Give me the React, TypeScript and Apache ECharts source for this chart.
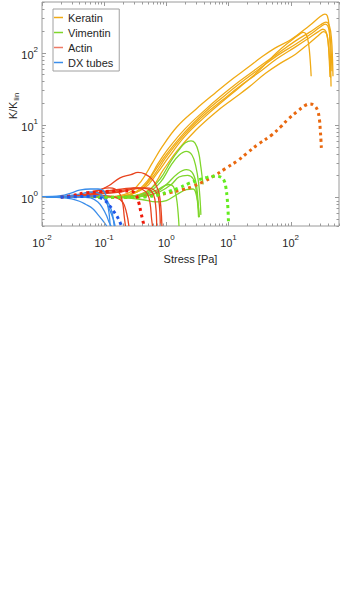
import React, { useEffect, useRef } from 'react';
import * as echarts from 'echarts';

const X_MIN = 0.01;
const X_MAX = 600;
const Y_MIN = 0.4;
const Y_MAX = 500;

const legendNames = ['Keratin', 'Vimentin', 'Actin', 'DX tubes'];

// Keratin (solid)
const keratin1 = [[0.1,1.0],[0.25,1.15],[0.4,1.7],[0.6,3.0],[0.86,5.0],[1.5,9.5],[3,16.5],[6.25,28],[12,44],[21,63],[35,88],[56,115],[100,150],[200,235],[300,315],[355,340],[390,320],[415,230],[432,110],[447,34]];
const keratin2 = [[0.12,1.0],[0.3,1.15],[0.5,1.7],[0.75,3.0],[1.1,4.8],[2,8.8],[4,15.5],[8,26],[15,40],[30,62],[60,95],[120,145],[200,190],[300,240],[370,264],[420,235],[455,150],[472,80],[480,47]];
const keratin3 = [[0.15,1.0],[0.35,1.2],[0.6,1.9],[1,3.6],[2,7.5],[4,13.5],[8,22],[15,34],[30,52],[60,82],[120,120],[200,160],[280,195],[330,210],[370,195],[400,140],[418,80],[430,46]];
const keratin4 = [[0.2,1.0],[0.45,1.35],[0.7,2.1],[1.1,3.6],[2,7],[4,12.5],[8,21],[15,33],[30,55],[60,100],[100,145],[140,180],[160,190],[180,175],[195,130],[206,80],[214,47]];
const keratin5 = [[0.25,1.0],[0.55,1.3],[0.9,2.4],[1.5,4.4],[3,8.5],[6.25,15],[12,23],[21,33],[40,52],[70,72],[120,95],[200,135],[280,172],[340,195],[380,180],[405,130],[425,75],[440,45]];
const keratin6 = [[0.18,1.0],[0.4,1.3],[0.65,2.3],[1,3.9],[2,8],[4,14.5],[8,24],[15,37],[30,58],[60,90],[120,130],[200,175],[300,225],[360,248],[400,230],[430,170],[450,100],[462,55]];

// Vimentin (solid)
const vimentin1 = [[0.05,1.0],[0.1,1.0],[0.3,1.05],[0.5,1.2],[0.8,1.8],[1.2,3.2],[1.6,4.5],[2.0,5.6],[2.5,6.0],[2.9,5.6],[3.3,4.2],[3.6,2.6],[3.8,1.8],[3.9,1.5]];
const vimentin2 = [[0.05,1.0],[0.1,1.0],[0.3,1.05],[0.5,1.15],[0.8,1.6],[1.2,2.8],[1.6,3.8],[2.1,4.3],[2.6,3.8],[3.0,2.6],[3.3,1.6],[3.5,0.9],[3.6,0.57]];
const vimentin3 = [[0.05,1.0],[0.1,1.0],[0.3,1.02],[0.6,1.1],[1.0,1.5],[1.5,2.1],[2.1,2.4],[2.6,2.2],[3.0,1.6],[3.2,1.0],[3.35,0.53]];
const vimentin4 = [[0.05,1.0],[0.2,1.0],[0.5,1.05],[0.8,1.2],[1.2,1.5],[1.6,1.9],[2.2,2.0],[2.7,1.8],[3.0,1.3],[3.2,0.8],[3.3,0.53]];
const vimentin5 = [[0.05,1.0],[0.2,1.0],[0.4,1.05],[0.7,1.25],[1.1,1.5],[1.3,1.4],[1.45,1.0],[1.55,0.6],[1.6,0.4]];
const vimentin6 = [[0.05,1.0],[0.2,0.98],[0.4,0.93],[0.69,0.86],[1.0,0.9],[1.5,1.1],[2.1,1.27],[2.7,1.3],[3.1,1.0],[3.3,0.7],[3.4,0.53]];

// Actin (solid)
const actin1 = [[0.02,1.0],[0.05,1.05],[0.085,1.25],[0.12,1.45],[0.18,1.85],[0.27,2.05],[0.35,2.2],[0.45,2.1],[0.6,1.75],[0.7,1.4],[0.77,1.1],[0.82,0.7],[0.85,0.4]];
const actin2 = [[0.02,1.0],[0.05,1.1],[0.08,1.25],[0.12,1.35],[0.15,1.3],[0.18,1.1],[0.2,0.8],[0.21,0.55],[0.22,0.4]];
const actin3 = [[0.02,1.0],[0.06,1.1],[0.1,1.2],[0.2,1.3],[0.3,1.35],[0.4,1.3],[0.5,1.1],[0.55,0.8],[0.58,0.5],[0.6,0.4]];
const actin4 = [[0.02,1.0],[0.05,1.05],[0.1,1.15],[0.2,1.25],[0.35,1.35],[0.5,1.3],[0.62,1.1],[0.68,0.7],[0.7,0.4]];
const actin5 = [[0.02,1.0],[0.05,1.02],[0.1,1.05],[0.15,1.0],[0.2,0.85],[0.23,0.6],[0.25,0.4]];
const actin6 = [[0.02,1.0],[0.05,1.05],[0.1,1.12],[0.2,1.2],[0.3,1.3],[0.45,1.35],[0.6,1.3],[0.72,1.1],[0.78,0.7],[0.8,0.4]];

// DX tubes (solid)
const dx1 = [[0.01,1.02],[0.02,1.05],[0.03,1.15],[0.04,1.25],[0.06,1.3],[0.08,1.3],[0.1,1.2],[0.11,0.9],[0.12,0.6],[0.125,0.4]];
const dx2 = [[0.01,1.0],[0.02,1.02],[0.04,1.1],[0.06,1.18],[0.08,1.15],[0.1,1.0],[0.12,0.8],[0.135,0.6],[0.145,0.4]];
const dx3 = [[0.01,1.0],[0.02,1.0],[0.04,1.0],[0.06,0.98],[0.08,0.85],[0.095,0.7],[0.11,0.55],[0.12,0.45],[0.13,0.4]];
const dx4 = [[0.01,1.0],[0.02,0.99],[0.03,0.95],[0.04,0.88],[0.05,0.8],[0.065,0.7],[0.08,0.57],[0.1,0.45],[0.11,0.4]];
const dx5 = [[0.01,1.0],[0.03,1.0],[0.05,1.02],[0.08,1.05],[0.1,0.95],[0.12,0.7],[0.14,0.5],[0.15,0.4]];

// Model curves (dotted)
const keratinModel = [[0.08,1.0],[0.2,1.0],[0.4,1.03],[0.7,1.08],[1.1,1.15],[1.8,1.27],[2.6,1.4],[4,1.65],[6,2.0],[9,2.5],[14,3.2],[20,4.1],[30,5.4],[49,7.2],[70,9.5],[91,12],[130,15.5],[170,18.5],[204,19.5],[240,18.5],[270,16],[290,12],[300,8.5],[308,6],[312,4.8]];
const vimentinModel = [[0.08,1.0],[0.3,1.0],[0.5,1.02],[0.77,1.08],[1.1,1.2],[1.6,1.35],[2.3,1.55],[3.3,1.74],[4.5,1.88],[6,1.95],[7.5,1.9],[8.5,1.7],[9.1,1.35],[9.5,1.0],[9.8,0.7],[10,0.45]];
const actinModel = [[0.02,1.0],[0.03,1.05],[0.05,1.15],[0.1,1.2],[0.2,1.22],[0.28,1.2],[0.33,1.05],[0.36,0.85],[0.39,0.62],[0.42,0.47],[0.44,0.4]];
const dxModel = [[0.02,1.0],[0.04,1.02],[0.06,1.03],[0.08,1.0],[0.1,0.92],[0.12,0.78],[0.14,0.65],[0.16,0.55],[0.18,0.45],[0.19,0.4]];

const C_KERATIN = '#F0AA14';
const C_VIMENTIN = '#7FD62B';
const C_ACTIN = '#E8431E';
const C_DX = '#3A8DEA';
const FONT = '"Liberation Sans", Arial, sans-serif';
const FRAME = '#9a9a9a';

function buildTicks() {
  const items: number[][] = [];
  for (let e = -2; e <= 2; e++) {
    for (let m = 1; m <= 9; m++) {
      const v = m * Math.pow(10, e);
      if (v > X_MAX) break;
      items.push([v, Y_MIN, 0, m === 1 ? 1 : 0]);
    }
  }
  for (let e = -1; e <= 2; e++) {
    for (let m = 1; m <= 9; m++) {
      const v = m * Math.pow(10, e);
      if (v < Y_MIN || v > Y_MAX) continue;
      items.push([X_MIN, v, 1, m === 1 ? 1 : 0]);
    }
  }
  return items;
}

function supFormatter(v: number) {
  const l = Math.log10(v);
  const e = Math.round(l);
  if (Math.abs(l - e) > 1e-6) return '';
  return `{b|10}{s|${e}}`;
}

const labelRich = {
  b: { fontSize: 11, lineHeight: 15, verticalAlign: 'bottom', color: '#262626', fontFamily: FONT },
  s: { fontSize: 8, lineHeight: 15, verticalAlign: 'top', color: '#262626', fontFamily: FONT },
};

export default function App() {
  const ref = useRef<HTMLDivElement>(null);
  useEffect(() => {
    if (!ref.current) return;
    const chart = echarts.init(ref.current, null, { renderer: 'svg' });

    const solid = (name: string, data: number[][], color: string) => ({
      type: 'line',
      name,
      data,
      showSymbol: false,
      symbol: 'none',
      smooth: 0.4,
      lineStyle: { color, width: 1.3 },
      itemStyle: { color },
      z: 2,
    });
    const dotted = (name: string, data: number[][], color: string) => ({
      type: 'line',
      name,
      data,
      showSymbol: false,
      symbol: 'none',
      smooth: 0.4,
      lineStyle: { color, width: 3, type: [3, 3.5], cap: 'butt' },
      itemStyle: { color },
      z: 3,
    });

    const series: any[] = [
      ...[keratin1, keratin2, keratin3, keratin4, keratin5, keratin6].map(d => solid(legendNames[0], d, C_KERATIN)),
      ...[vimentin1, vimentin2, vimentin3, vimentin4, vimentin5, vimentin6].map(d => solid(legendNames[1], d, C_VIMENTIN)),
      ...[actin1, actin2, actin3, actin4, actin5, actin6].map(d => solid(legendNames[2], d, C_ACTIN)),
      ...[dx1, dx2, dx3, dx4, dx5].map(d => solid(legendNames[3], d, C_DX)),
      dotted('Keratin model', keratinModel, '#E9680F'),
      dotted('Vimentin model', vimentinModel, '#62EC1E'),
      dotted('Actin model', actinModel, '#F01A0A'),
      dotted('DX model', dxModel, '#1F56E8'),
      {
        type: 'custom',
        name: 'ticks',
        silent: true,
        clip: false,
        z: 5,
        encode: { x: 0, y: 1 },
        data: buildTicks(),
        renderItem: (params: any, api: any) => {
          const xv = api.value(0);
          const yv = api.value(1);
          const dir = api.value(2);
          const major = api.value(3);
          const len = major ? 4 : 2.5;
          const style = { stroke: FRAME, lineWidth: 1 };
          if (dir === 0) {
            const p1 = api.coord([xv, Y_MIN]);
            const p2 = api.coord([xv, Y_MAX]);
            const x = Math.round(p1[0]) + 0.5;
            return {
              type: 'group',
              children: [
                { type: 'line', shape: { x1: x, y1: p1[1], x2: x, y2: p1[1] - len }, style },
                { type: 'line', shape: { x1: x, y1: p2[1], x2: x, y2: p2[1] + len }, style },
              ],
            };
          }
          const p1 = api.coord([X_MIN, yv]);
          const p2 = api.coord([X_MAX, yv]);
          const y = Math.round(p1[1]) + 0.5;
          return {
            type: 'group',
            children: [
              { type: 'line', shape: { x1: p1[0], y1: y, x2: p1[0] + len, y2: y }, style },
              { type: 'line', shape: { x1: p2[0], y1: y, x2: p2[0] - len, y2: y }, style },
            ],
          };
        },
      },
    ];

    chart.setOption({
      animation: false,
      textStyle: { fontFamily: FONT },
      grid: {
        left: 42,
        right: 1,
        top: 2,
        bottom: 365,
        show: true,
        borderColor: FRAME,
        borderWidth: 1,
        backgroundColor: '#fff',
      },
      legend: {
        data: [
          { name: 'Keratin', itemStyle: { color: C_KERATIN } },
          { name: 'Vimentin', itemStyle: { color: C_VIMENTIN } },
          { name: 'Actin', itemStyle: { color: '#EE7a66' } },
          { name: 'DX tubes', itemStyle: { color: C_DX } },
        ],
        orient: 'vertical',
        left: 53,
        top: 9,
        icon: 'rect',
        itemWidth: 9,
        itemHeight: 1.5,
        itemGap: 2,
        padding: [2, 6, 2, 1],
        borderColor: '#a0a0a0',
        borderWidth: 1,
        backgroundColor: '#fff',
        selectedMode: false,
        textStyle: { fontSize: 11, lineHeight: 13, color: '#262626', fontFamily: FONT },
        z: 10,
      },
      xAxis: {
        type: 'log',
        logBase: 10,
        min: X_MIN,
        max: X_MAX,
        name: 'Stress [Pa]',
        nameLocation: 'middle',
        nameGap: 27,
        nameTextStyle: { fontSize: 11, color: '#262626', fontFamily: FONT },
        axisLine: { show: false },
        axisTick: { show: false },
        splitLine: { show: false },
        minorTick: { show: false },
        axisLabel: {
          formatter: supFormatter,
          rich: labelRich,
          margin: 7,
          showMinLabel: true,
          showMaxLabel: true,
          hideOverlap: false,
        },
      },
      yAxis: {
        type: 'log',
        logBase: 10,
        min: Y_MIN,
        max: Y_MAX,
        axisLine: { show: false },
        axisTick: { show: false },
        splitLine: { show: false },
        minorTick: { show: false },
        axisLabel: {
          formatter: supFormatter,
          rich: labelRich,
          margin: 4,
          showMinLabel: true,
          showMaxLabel: true,
          hideOverlap: false,
        },
      },
      graphic: [
        {
          type: 'text',
          x: 13,
          y: 106,
          rotation: Math.PI / 2,
          style: {
            text: '{a|K/K}{b|lin}',
            align: 'center',
            verticalAlign: 'middle',
            rich: {
              a: { fontSize: 11, lineHeight: 14, verticalAlign: 'middle', fill: '#262626', fontFamily: FONT },
              b: { fontSize: 8, lineHeight: 8, padding: [6, 0, 0, 1], verticalAlign: 'bottom', fill: '#262626', fontFamily: FONT },
            },
          },
        },
      ],
      series,
    });
    return () => chart.dispose();
  }, []);
  return (
    <div
      ref={ref}
      style={{ position: 'fixed', left: 0, top: 0, width: 342, height: 591, background: '#fff' }}
    />
  );
}
